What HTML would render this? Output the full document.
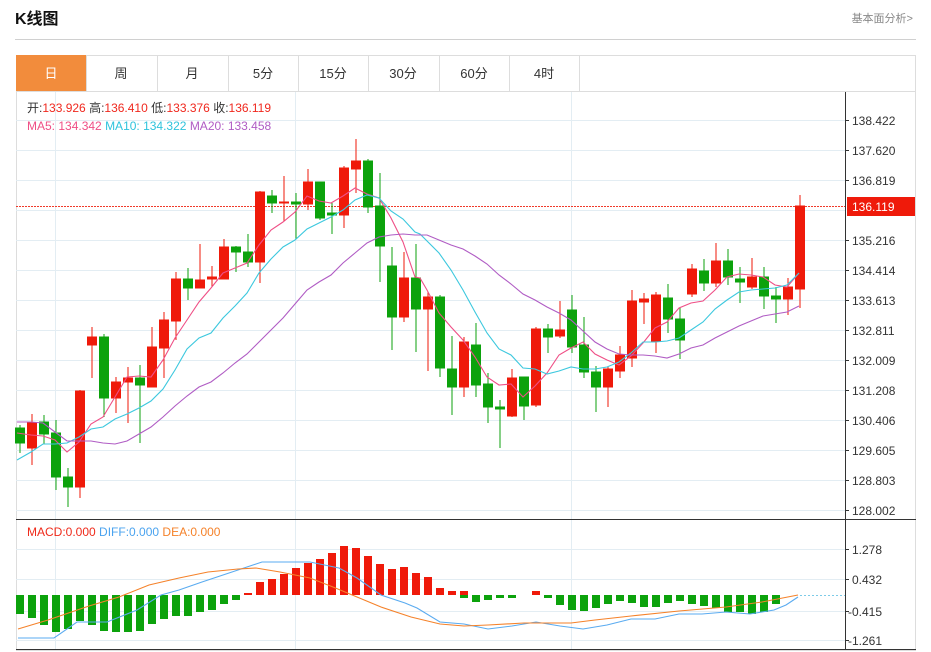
<!DOCTYPE html>
<html><head><meta charset="utf-8"><style>
body{margin:0;background:#fff;width:931px;height:652px;overflow:hidden;font-family:"Liberation Sans","Noto Sans CJK SC",sans-serif;}
</style></head><body>
<svg width="931" height="652" xmlns="http://www.w3.org/2000/svg" style="position:absolute;left:0;top:0" font-family="Liberation Sans, Noto Sans CJK SC, sans-serif">
<text x="15" y="24" font-size="16" font-weight="bold" fill="#111">K线图</text>
<text x="913" y="22" font-size="11" fill="#888" text-anchor="end">基本面分析&gt;</text>
<line x1="15" y1="39.5" x2="916" y2="39.5" stroke="#d0d0d0"/>
<rect x="16.5" y="55.5" width="899" height="595" fill="none" stroke="#ddd"/>
<line x1="16" y1="91.5" x2="916" y2="91.5" stroke="#ddd"/>
<rect x="16" y="55" width="70" height="36" fill="#f28c3c"/>
<g stroke="#ddd"><line x1="86.5" y1="55" x2="86.5" y2="91"/><line x1="157.5" y1="55" x2="157.5" y2="91"/><line x1="228.5" y1="55" x2="228.5" y2="91"/><line x1="298.5" y1="55" x2="298.5" y2="91"/><line x1="368.5" y1="55" x2="368.5" y2="91"/><line x1="439.5" y1="55" x2="439.5" y2="91"/><line x1="509.5" y1="55" x2="509.5" y2="91"/><line x1="579.5" y1="55" x2="579.5" y2="91"/></g>
<g font-size="13" fill="#333" text-anchor="middle"><text x="51" y="78" fill="#fff">日</text><text x="121" y="78">周</text><text x="192" y="78">月</text><text x="263" y="78">5分</text><text x="333" y="78">15分</text><text x="403" y="78">30分</text><text x="474" y="78">60分</text><text x="544" y="78">4时</text></g>
<!-- grid -->
<g stroke="#e3edf3"><line x1="16" y1="120.5" x2="845" y2="120.5"/><line x1="16" y1="150.5" x2="845" y2="150.5"/><line x1="16" y1="180.5" x2="845" y2="180.5"/><line x1="16" y1="210.5" x2="845" y2="210.5"/><line x1="16" y1="240.5" x2="845" y2="240.5"/><line x1="16" y1="270.5" x2="845" y2="270.5"/><line x1="16" y1="300.5" x2="845" y2="300.5"/><line x1="16" y1="330.5" x2="845" y2="330.5"/><line x1="16" y1="360.5" x2="845" y2="360.5"/><line x1="16" y1="390.5" x2="845" y2="390.5"/><line x1="16" y1="420.5" x2="845" y2="420.5"/><line x1="16" y1="450.5" x2="845" y2="450.5"/><line x1="16" y1="480.5" x2="845" y2="480.5"/><line x1="16" y1="510.5" x2="845" y2="510.5"/>
<line x1="55.5" y1="92" x2="55.5" y2="650"/><line x1="295.5" y1="92" x2="295.5" y2="650"/><line x1="571.5" y1="92" x2="571.5" y2="650"/>
<line x1="16" y1="549.5" x2="845" y2="549.5"/><line x1="16" y1="579.5" x2="845" y2="579.5"/><line x1="16" y1="611.5" x2="845" y2="611.5"/><line x1="16" y1="640.5" x2="845" y2="640.5"/></g>
<text x="27" y="112" font-size="12" fill="#333">开:<tspan fill="#f0281e">133.926</tspan>  高:<tspan fill="#f0281e">136.410</tspan>  低:<tspan fill="#f0281e">133.376</tspan>  收:<tspan fill="#f0281e">136.119</tspan></text>
<text x="27" y="130" font-size="12"><tspan fill="#ef4f86">MA5: 134.342</tspan>  <tspan fill="#2ec3dc">MA10: 134.322</tspan>  <tspan fill="#b05cc4">MA20: 133.458</tspan></text>
<line x1="16" y1="206.5" x2="845" y2="206.5" stroke="#f03a2a" stroke-dasharray="2,1"/>
<!-- candles -->
<g stroke-width="1">
<g id="c"></g>
</g>
<g fill="#0ca20c" stroke="#0ca20c">
<line x1="20" y1="425" x2="20" y2="453"/><rect x="15.5" y="428" width="9" height="15"/>
<line x1="44" y1="415" x2="44" y2="444"/><rect x="39.5" y="422" width="9" height="12"/>
<line x1="56" y1="420" x2="56" y2="490"/><rect x="51.5" y="433" width="9" height="44"/>
<line x1="68" y1="468" x2="68" y2="507"/><rect x="63.5" y="477" width="9" height="10"/>
<line x1="104" y1="334" x2="104" y2="417"/><rect x="99.5" y="337" width="9" height="61"/>
<line x1="140" y1="365" x2="140" y2="443"/><rect x="135.5" y="378" width="9" height="7"/>
<line x1="188" y1="268" x2="188" y2="300"/><rect x="183.5" y="279" width="9" height="9"/>
<line x1="236" y1="246" x2="236" y2="272"/><rect x="231.5" y="247" width="9" height="5"/>
<line x1="248" y1="234" x2="248" y2="267"/><rect x="243.5" y="252" width="9" height="10"/>
<line x1="272" y1="190" x2="272" y2="213"/><rect x="267.5" y="196" width="9" height="7"/>
<line x1="296" y1="193" x2="296" y2="239"/><rect x="291.5" y="202" width="9" height="2"/>
<line x1="320" y1="182" x2="320" y2="220"/><rect x="315.5" y="182" width="9" height="36"/>
<line x1="332" y1="203" x2="332" y2="234"/><rect x="327.5" y="213" width="9" height="2"/>
<line x1="368" y1="159" x2="368" y2="213"/><rect x="363.5" y="161" width="9" height="46"/>
<line x1="380" y1="173" x2="380" y2="282"/><rect x="375.5" y="206" width="9" height="40"/>
<line x1="392" y1="247" x2="392" y2="350"/><rect x="387.5" y="266" width="9" height="51"/>
<line x1="416" y1="244" x2="416" y2="352"/><rect x="411.5" y="278" width="9" height="31"/>
<line x1="440" y1="295" x2="440" y2="377"/><rect x="435.5" y="297" width="9" height="71"/>
<line x1="452" y1="336" x2="452" y2="415"/><rect x="447.5" y="369" width="9" height="18"/>
<line x1="476" y1="323" x2="476" y2="397"/><rect x="471.5" y="345" width="9" height="40"/>
<line x1="488" y1="373" x2="488" y2="423"/><rect x="483.5" y="384" width="9" height="23"/>
<line x1="500" y1="400" x2="500" y2="448"/><rect x="495.5" y="407" width="9" height="2"/>
<line x1="524" y1="377" x2="524" y2="420"/><rect x="519.5" y="377" width="9" height="29"/>
<line x1="548" y1="324" x2="548" y2="353"/><rect x="543.5" y="329" width="9" height="8"/>
<line x1="572" y1="295" x2="572" y2="353"/><rect x="567.5" y="310" width="9" height="37"/>
<line x1="584" y1="317" x2="584" y2="378"/><rect x="579.5" y="345" width="9" height="27"/>
<line x1="596" y1="366" x2="596" y2="412"/><rect x="591.5" y="372" width="9" height="15"/>
<line x1="668" y1="284" x2="668" y2="333"/><rect x="663.5" y="298" width="9" height="21"/>
<line x1="680" y1="308" x2="680" y2="359"/><rect x="675.5" y="319" width="9" height="21"/>
<line x1="704" y1="259" x2="704" y2="291"/><rect x="699.5" y="271" width="9" height="12"/>
<line x1="728" y1="249" x2="728" y2="285"/><rect x="723.5" y="261" width="9" height="16"/>
<line x1="740" y1="267" x2="740" y2="303"/><rect x="735.5" y="279" width="9" height="3"/>
<line x1="764" y1="267" x2="764" y2="309"/><rect x="759.5" y="277" width="9" height="19"/>
<line x1="776" y1="287" x2="776" y2="323"/><rect x="771.5" y="296" width="9" height="3"/>
</g>
<g fill="#ef1a0a" stroke="#ef1a0a">
<line x1="32" y1="414" x2="32" y2="465"/><rect x="27.5" y="423" width="9" height="25"/>
<line x1="80" y1="390" x2="80" y2="498"/><rect x="75.5" y="391" width="9" height="96"/>
<line x1="92" y1="327" x2="92" y2="378"/><rect x="87.5" y="337" width="9" height="8"/>
<line x1="116" y1="377" x2="116" y2="413"/><rect x="111.5" y="382" width="9" height="16"/>
<line x1="128" y1="367" x2="128" y2="423"/><rect x="123.5" y="378" width="9" height="4"/>
<line x1="152" y1="327" x2="152" y2="387"/><rect x="147.5" y="347" width="9" height="40"/>
<line x1="164" y1="312" x2="164" y2="378"/><rect x="159.5" y="320" width="9" height="28"/>
<line x1="176" y1="272" x2="176" y2="340"/><rect x="171.5" y="279" width="9" height="42"/>
<line x1="200" y1="244" x2="200" y2="288"/><rect x="195.5" y="280" width="9" height="8"/>
<line x1="212" y1="266" x2="212" y2="287"/><rect x="207.5" y="277" width="9" height="2"/>
<line x1="224" y1="239" x2="224" y2="279"/><rect x="219.5" y="247" width="9" height="32"/>
<line x1="260" y1="191" x2="260" y2="283"/><rect x="255.5" y="192" width="9" height="70"/>
<line x1="284" y1="176" x2="284" y2="221"/><rect x="279.5" y="202" width="9" height="1"/>
<line x1="308" y1="169" x2="308" y2="210"/><rect x="303.5" y="182" width="9" height="22"/>
<line x1="344" y1="166" x2="344" y2="228"/><rect x="339.5" y="168" width="9" height="47"/>
<line x1="356" y1="139" x2="356" y2="193"/><rect x="351.5" y="161" width="9" height="8"/>
<line x1="404" y1="252" x2="404" y2="322"/><rect x="399.5" y="278" width="9" height="39"/>
<line x1="428" y1="292" x2="428" y2="371"/><rect x="423.5" y="297" width="9" height="12"/>
<line x1="464" y1="337" x2="464" y2="397"/><rect x="459.5" y="342" width="9" height="45"/>
<line x1="512" y1="369" x2="512" y2="417"/><rect x="507.5" y="378" width="9" height="38"/>
<line x1="536" y1="327" x2="536" y2="407"/><rect x="531.5" y="329" width="9" height="76"/>
<line x1="560" y1="301" x2="560" y2="338"/><rect x="555.5" y="330" width="9" height="6"/>
<line x1="608" y1="367" x2="608" y2="407"/><rect x="603.5" y="369" width="9" height="18"/>
<line x1="620" y1="346" x2="620" y2="378"/><rect x="615.5" y="355" width="9" height="16"/>
<line x1="632" y1="290" x2="632" y2="367"/><rect x="627.5" y="301" width="9" height="57"/>
<line x1="644" y1="293" x2="644" y2="324"/><rect x="639.5" y="299" width="9" height="3"/>
<line x1="656" y1="292" x2="656" y2="353"/><rect x="651.5" y="295" width="9" height="46"/>
<line x1="692" y1="264" x2="692" y2="297"/><rect x="687.5" y="269" width="9" height="25"/>
<line x1="716" y1="243" x2="716" y2="287"/><rect x="711.5" y="261" width="9" height="22"/>
<line x1="752" y1="258" x2="752" y2="289"/><rect x="747.5" y="277" width="9" height="10"/>
<line x1="788" y1="278" x2="788" y2="315"/><rect x="783.5" y="287" width="9" height="12"/>
<line x1="800" y1="195" x2="800" y2="308"/><rect x="795.5" y="206" width="9" height="83"/>
</g>
<g fill="none" stroke-width="1.1">
<polyline stroke="#ef4f86" points="17,433 31,435 43,436 55,440 67,452 79,442 91,424 103,417 115,397 127,377 139,376 151,377 163,360 175,338 187,320 199,302 211,288 223,273 235,268 247,263 259,245 271,230 283,222 295,212 307,196 319,201 331,203 343,196 355,188 367,194 379,198 391,218 403,242 415,277 420,278 427,290 439,313 451,327 463,340 475,357 487,377 499,385 511,384 523,397 535,386 547,373 559,355 571,348 583,342 595,354 607,360 619,365 631,356 643,343 655,328 667,322 679,308 691,303 703,301 715,290 727,277 739,274 751,275 763,277 775,285 787,287 799,273"/>
<polyline stroke="#3cc8de" points="17,460 31,452 43,444 55,444 67,443 79,437 91,429 103,427 115,419 127,414 139,408 151,401 163,389 175,370 187,349 199,338 211,333 223,318 235,306 247,293 259,273 271,259 283,247 295,240 307,229 319,223 331,217 343,210 355,200 367,195 379,198 391,211 403,219 415,232 420,234 439,253 451,270 463,290 475,312 487,333 499,349 511,355 523,368 535,369 547,374 559,371 571,367 583,369 595,369 607,367 619,362 631,353 643,342 655,342 667,341 679,338 691,330 703,322 715,309 727,300 739,292 751,290 763,289 775,288 787,285 799,273"/>
<polyline stroke="#b05cc4" points="17,422 31,422 43,423 55,432 67,441 79,441 91,441 103,443 115,444 127,441 139,434 151,427 163,417 175,406 187,396 199,387 211,382 223,373 235,363 247,354 259,342 271,330 283,318 295,304 307,290 319,282 331,275 343,263 355,253 367,243 379,237 391,235 403,234 415,235 427,235 439,240 451,245 463,249 475,256 487,264 499,275 511,284 523,294 535,300 547,307 559,313 571,320 583,331 595,342 607,349 619,354 631,355 643,355 655,356 667,358 679,354 691,348 703,345 715,338 727,332 739,326 751,321 763,316 775,314 787,312 799,306"/>
</g>
<!-- axis -->
<line x1="845.5" y1="92" x2="845.5" y2="650" stroke="#333"/>
<line x1="16" y1="519.5" x2="916" y2="519.5" stroke="#333"/>
<line x1="16" y1="649.5" x2="916" y2="649.5" stroke="#333"/>
<g stroke="#333"><line x1="845" y1="120.5" x2="849" y2="120.5"/><line x1="845" y1="150.5" x2="849" y2="150.5"/><line x1="845" y1="180.5" x2="849" y2="180.5"/><line x1="845" y1="240.5" x2="849" y2="240.5"/><line x1="845" y1="270.5" x2="849" y2="270.5"/><line x1="845" y1="300.5" x2="849" y2="300.5"/><line x1="845" y1="330.5" x2="849" y2="330.5"/><line x1="845" y1="360.5" x2="849" y2="360.5"/><line x1="845" y1="390.5" x2="849" y2="390.5"/><line x1="845" y1="420.5" x2="849" y2="420.5"/><line x1="845" y1="450.5" x2="849" y2="450.5"/><line x1="845" y1="480.5" x2="849" y2="480.5"/><line x1="845" y1="510.5" x2="849" y2="510.5"/><line x1="845" y1="549.5" x2="849" y2="549.5"/><line x1="845" y1="579.5" x2="849" y2="579.5"/><line x1="845" y1="611.5" x2="849" y2="611.5"/><line x1="845" y1="640.5" x2="849" y2="640.5"/></g>
<g font-size="12" fill="#333"><text x="852" y="125">138.422</text><text x="852" y="155">137.620</text><text x="852" y="185">136.819</text><text x="852" y="245">135.216</text><text x="852" y="275">134.414</text><text x="852" y="305">133.613</text><text x="852" y="335">132.811</text><text x="852" y="365">132.009</text><text x="852" y="395">131.208</text><text x="852" y="425">130.406</text><text x="852" y="455">129.605</text><text x="852" y="485">128.803</text><text x="852" y="515">128.002</text>
<text x="852" y="554">1.278</text><text x="852" y="584">0.432</text><text x="848" y="616">-0.415</text><text x="848" y="645">-1.261</text></g>
<rect x="847" y="197" width="68" height="19" fill="#ef1a0a"/>
<text x="852" y="211" font-size="12" fill="#fff">136.119</text>
<!-- MACD -->
<text x="27" y="536" font-size="12"><tspan fill="#ef2a1a">MACD:0.000</tspan>  <tspan fill="#4aa3ef">DIFF:0.000</tspan>  <tspan fill="#f5822a">DEA:0.000</tspan></text>
<line x1="800" y1="595.5" x2="845" y2="595.5" stroke="#7ccbe8" stroke-dasharray="2,2"/>
<g fill="#0ca20c">
<rect x="16" y="595" width="8" height="19"/><rect x="28" y="595" width="8" height="23"/><rect x="40" y="595" width="8" height="30"/><rect x="52" y="595" width="8" height="37"/><rect x="64" y="595" width="8" height="34"/><rect x="76" y="595" width="8" height="26"/><rect x="88" y="595" width="8" height="30"/><rect x="100" y="595" width="8" height="36"/><rect x="112" y="595" width="8" height="37"/><rect x="124" y="595" width="8" height="37"/><rect x="136" y="595" width="8" height="36"/><rect x="148" y="595" width="8" height="29"/><rect x="160" y="595" width="8" height="24"/><rect x="172" y="595" width="8" height="21"/><rect x="184" y="595" width="8" height="21"/><rect x="196" y="595" width="8" height="17"/><rect x="208" y="595" width="8" height="15"/><rect x="220" y="595" width="8" height="9"/><rect x="232" y="595" width="8" height="5"/>
<rect x="460" y="595" width="8" height="3"/><rect x="472" y="595" width="8" height="7"/><rect x="484" y="595" width="8" height="5"/><rect x="496" y="595" width="8" height="3"/><rect x="508" y="595" width="8" height="3"/>
<rect x="544" y="595" width="8" height="3"/><rect x="556" y="595" width="8" height="10"/><rect x="568" y="595" width="8" height="15"/><rect x="580" y="595" width="8" height="16"/><rect x="592" y="595" width="8" height="13"/><rect x="604" y="595" width="8" height="9"/><rect x="616" y="595" width="8" height="6"/><rect x="628" y="595" width="8" height="8"/><rect x="640" y="595" width="8" height="12"/><rect x="652" y="595" width="8" height="12"/><rect x="664" y="595" width="8" height="8"/><rect x="676" y="595" width="8" height="6"/><rect x="688" y="595" width="8" height="9"/><rect x="700" y="595" width="8" height="11"/><rect x="712" y="595" width="8" height="13"/><rect x="724" y="595" width="8" height="17"/><rect x="736" y="595" width="8" height="17"/><rect x="748" y="595" width="8" height="19"/><rect x="760" y="595" width="8" height="17"/><rect x="772" y="595" width="8" height="9"/>
</g>
<g fill="#ef1a0a">
<rect x="244" y="593" width="8" height="2"/><rect x="256" y="582" width="8" height="13"/><rect x="268" y="579" width="8" height="16"/><rect x="280" y="574" width="8" height="21"/><rect x="292" y="568" width="8" height="27"/><rect x="304" y="563" width="8" height="32"/><rect x="316" y="559" width="8" height="36"/><rect x="328" y="553" width="8" height="42"/><rect x="340" y="546" width="8" height="49"/><rect x="352" y="548" width="8" height="47"/><rect x="364" y="556" width="8" height="39"/><rect x="376" y="564" width="8" height="31"/><rect x="388" y="569" width="8" height="26"/><rect x="400" y="567" width="8" height="28"/><rect x="412" y="573" width="8" height="22"/><rect x="424" y="577" width="8" height="18"/><rect x="436" y="588" width="8" height="7"/><rect x="448" y="591" width="8" height="4"/><rect x="460" y="591" width="8" height="4"/><rect x="532" y="591" width="8" height="4"/>
</g>
<g fill="none" stroke-width="1.1">
<polyline stroke="#5aabf0" points="18,638 54,638 77,622 95,622 107,622 137,610 161,595 179,590 202,582 232,572 262,562 310,562 339,568 357,578 381,595 405,603 417,608 440,622 464,624 488,629 512,626 536,622 560,626 583,629 607,625 631,619 655,619 679,614 702,614 726,612 750,614 774,610 786,605 798,597"/>
<polyline stroke="#f5822a" points="18,629 48,620 89,606 119,597 149,585 179,578 208,572 238,569 256,568 280,572 310,578 333,587 357,597 381,607 411,617 440,624 464,626 488,625 524,623 571,623 595,620 631,616 679,611 726,607 762,602 798,595"/>
</g>
</svg>
</body></html>
